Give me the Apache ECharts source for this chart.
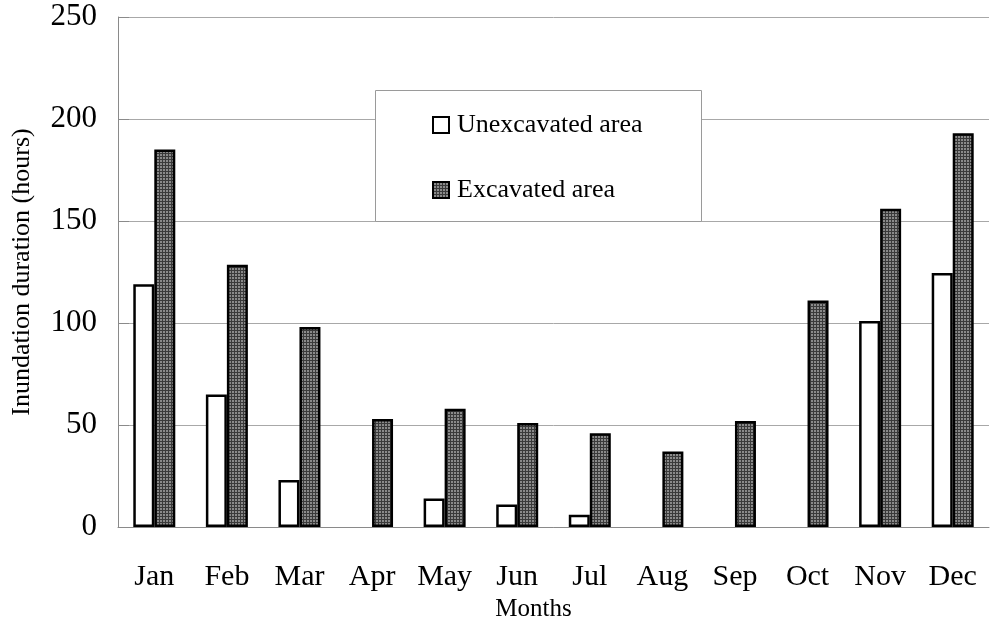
<!DOCTYPE html>
<html>
<head>
<meta charset="utf-8">
<script src="https://cdn.jsdelivr.net/npm/echarts@6/dist/echarts.min.js"></script>
<style>html,body{margin:0;padding:0;background:#fff}#c{width:1000px;height:625px}</style>
</head>
<body>
<div id="c"></div>
<script>
var months = ['Jan','Feb','Mar','Apr','May','Jun','Jul','Aug','Sep','Oct','Nov','Dec'];
var unexcavated = [119, 65, 23, 0, 14, 11, 6, 0, 0, 0, 101, 124.5];
var excavated = [185, 128.5, 98, 53, 58, 51, 46, 37, 52, 111, 156, 193];
var yTicks = [0, 50, 100, 150, 200, 250];

var FONT = "'Liberation Serif','Times New Roman',serif";

var cv = document.createElement('canvas');
cv.width = 3; cv.height = 3;
var cx = cv.getContext('2d');
cx.fillStyle = '#8a8a8a'; cx.fillRect(0,0,3,3);
cx.fillStyle = '#3a3a3a'; cx.fillRect(0,0,3,1); cx.fillRect(0,0,1,3);
var pattern = {image: cv, repeat: 'repeat'};

function hideZero(arr) {
  return arr.map(function (v) {
    return v === 0 ? {value: 0, itemStyle: {borderWidth: 0, opacity: 0}} : v;
  });
}

var chart = echarts.init(document.getElementById('c'), null, {renderer:'canvas'});
chart.setOption({
  animation: false,
  backgroundColor: '#fff',
  grid: {left: 118, right: 11, top: 17, bottom: 98, containLabel: false, outerBoundsMode: 'none'},
  graphic: [{
    type: 'rect', left: 375, top: 90, z: 5,
    shape: {width: 326, height: 131},
    style: {fill: '#fff', stroke: '#9a9a9a', lineWidth: 1}
  }],
  legend: [{
    data: ['Unexcavated area'], left: 432, top: 112, z: 10,
    itemWidth: 16, itemHeight: 16, itemGap: 0, padding: 0,
    icon: 'rect',
    textStyle: {fontFamily: FONT, fontSize: 26, color: '#000', padding: [0,0,0,3]}
  },{
    data: ['Excavated area'], left: 432, top: 177, z: 10,
    itemWidth: 16, itemHeight: 16, itemGap: 0, padding: 0,
    icon: 'rect',
    textStyle: {fontFamily: FONT, fontSize: 26, color: '#000', padding: [0,0,0,3]}
  }],
  xAxis: {
    type: 'category', data: months,
    name: 'Months', nameLocation: 'middle', nameGap: 68,
    nameTextStyle: {fontFamily: FONT, fontSize: 25, color: '#000', padding: [0, 40, 0, 0]},
    axisLine: {lineStyle: {color: '#8a8a8a', width: 1}},
    axisTick: {inside: true, length: 10, lineStyle: {color: '#8a8a8a'}},
    axisLabel: {fontFamily: FONT, fontSize: 30, color: '#000', margin: 35}
  },
  yAxis: {
    type: 'value', min: 0, max: 250, interval: 50,
    name: 'Inundation duration (hours)', nameLocation: 'middle', nameGap: 83,
    nameTextStyle: {fontFamily: FONT, fontSize: 26, color: '#000'},
    axisLine: {show: true, lineStyle: {color: '#8a8a8a', width: 1}},
    axisTick: {show: true, inside: true, length: 11, lineStyle: {color: '#8a8a8a'}},
    splitLine: {lineStyle: {color: '#a8a8a8', width: 1}},
    axisLabel: {fontFamily: FONT, fontSize: 31, color: '#000', margin: 21,
      formatter: function(v){ return yTicks.indexOf(v) >= 0 ? String(v) : ''; }}
  },
  series: [{
    name: 'Unexcavated area', type: 'bar', data: hideZero(unexcavated),
    barWidth: 21, barGap: '0%',
    itemStyle: {color: '#fff', borderColor: '#000', borderWidth: 2.5}
  },{
    name: 'Excavated area', type: 'bar', data: hideZero(excavated),
    barWidth: 21, barGap: '0%',
    itemStyle: {color: pattern, borderColor: '#000', borderWidth: 2.5}
  }]
});
</script>
</body>
</html>
